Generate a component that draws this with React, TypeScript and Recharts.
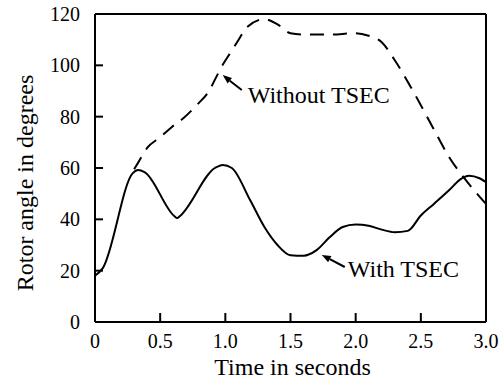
import { LineChart, Line, XAxis, YAxis, ReferenceLine, ReferenceDot } from "recharts";

// rotor angle with the TSEC controller (solid)
const timeWith = [0, 0.06, 0.29, 0.33, 0.38, 0.61, 0.63, 0.65, 0.92, 0.98, 1.05, 1.19, 1.3, 1.4, 1.5, 1.6, 1.7, 1.8, 1.9, 2.0, 2.1, 2.2, 2.3, 2.4, 2.5, 2.6, 2.72, 2.8, 2.87, 2.95, 3.0];
const angleWith = [18, 21, 58, 59.2, 58.4, 41.2, 40.5, 41.2, 60, 61.2, 60, 47.5, 37, 30, 26, 25.8, 28, 33, 37, 38, 37.5, 36, 35, 35.5, 41.5, 46, 51.5, 55.5, 57, 56, 54.5];

// rotor angle without TSEC (dashed)
const timeWithout = [0.3, 0.33, 0.4, 0.5, 0.59, 0.68, 0.79, 0.87, 0.93, 0.97, 1.04, 1.09, 1.17, 1.3, 1.4, 1.5, 1.6, 1.8, 2.0, 2.1, 2.2, 2.3, 2.44, 2.59, 2.72, 2.85, 3.0];
const angleWithout = [59.5, 62, 67.8, 72, 76, 79.5, 85, 89.6, 95.4, 99.3, 105, 109, 115, 118, 116, 112.5, 112, 112, 112.5, 111.5, 109, 102, 90, 76, 64, 55, 46];

const xTicks = [0, 0.5, 1, 1.5, 2, 2.5, 3];
const yTicks = [0, 20, 40, 60, 80, 100, 120];

const withData = timeWith.map((t, i) => ({ t, v: angleWith[i] }));
const withoutData = timeWithout.map((t, i) => ({ t, v: angleWithout[i] }));

const font = "Liberation Serif, DejaVu Serif, Noto Serif, serif";

function YTick(props: any) {
  const { x, y, payload } = props;
  return (
    <g>
      <line x1={x} y1={y} x2={x + 8} y2={y} stroke="#000" strokeWidth={2} />
      <text x={x - 15} y={y} dy="0.35em" textAnchor="end" fontSize={20} style={{ fontFamily: font }} fill="#000">
        {payload.value}
      </text>
    </g>
  );
}

function XTick(props: any) {
  const { x, y, payload } = props;
  const label = payload.value === 0 ? "0" : Number(payload.value).toFixed(1);
  return (
    <g>
      <line x1={x} y1={y} x2={x} y2={y - 9} stroke="#000" strokeWidth={2} />
      <text x={x} y={y + 26} textAnchor="middle" fontSize={20} style={{ fontFamily: font }} fill="#000">
        {label}
      </text>
    </g>
  );
}

function YLabel(props: any) {
  const { viewBox } = props;
  const cx = viewBox.x + 25;
  const cy = viewBox.y + viewBox.height / 2 + 15;
  return (
    <text
      x={cx}
      y={cy}
      transform={`rotate(-90, ${cx}, ${cy})`}
      textAnchor="middle"
      dominantBaseline="central"
      fontSize={24}
      style={{ fontFamily: font }}
      fill="#000"
    >
      Rotor angle in degrees
    </text>
  );
}

function XLabel(props: any) {
  const { viewBox } = props;
  return (
    <text
      x={viewBox.x + viewBox.width / 2 + 2}
      y={viewBox.y + 53}
      textAnchor="middle"
      fontSize={24}
      style={{ fontFamily: font }}
      fill="#000"
    >
      Time in seconds
    </text>
  );
}

// arrow pointing at (cx, cy) with its tail and text offset in pixels
function Callout(props: any) {
  const { cx, cy, tail, textAt, text } = props;
  const x2 = cx + tail[0];
  const y2 = cy + tail[1];
  const ang = Math.atan2(cy - y2, cx - x2);
  const len = 9;
  const w = 3.5;
  const bx = cx - len * Math.cos(ang);
  const by = cy - len * Math.sin(ang);
  const p1 = `${bx + w * Math.sin(ang)},${by - w * Math.cos(ang)}`;
  const p2 = `${bx - w * Math.sin(ang)},${by + w * Math.cos(ang)}`;
  return (
    <g>
      <line x1={x2} y1={y2} x2={bx} y2={by} stroke="#000" strokeWidth={2} />
      <polygon points={`${cx},${cy} ${p1} ${p2}`} fill="#000" />
      <text x={cx + textAt[0]} y={cy + textAt[1]} fontSize={24} style={{ fontFamily: font }} fill="#000">
        {text}
      </text>
    </g>
  );
}

export default function App() {
  return (
    <div style={{ position: "absolute", left: 0, top: 0, width: 501, height: 381, background: "#fff", fontFamily: font }}>
      <LineChart width={501} height={381} margin={{ top: 14, right: 15, left: 0, bottom: 0 }}>
        <XAxis
          type="number"
          dataKey="t"
          domain={[0, 3]}
          ticks={xTicks}
          interval={0}
          tickSize={0}
          tickMargin={0}
          tick={<XTick />}
          height={59}
          axisLine={{ stroke: "#000", strokeWidth: 2 }}
          label={<XLabel />}
        />
        <YAxis
          type="number"
          domain={[0, 120]}
          ticks={yTicks}
          interval={0}
          tickSize={0}
          tickMargin={0}
          tick={<YTick />}
          width={95}
          axisLine={{ stroke: "#000", strokeWidth: 2 }}
          label={<YLabel />}
        />
        <ReferenceLine y={120} stroke="#000" strokeWidth={2} />
        <ReferenceLine x={3} stroke="#000" strokeWidth={2} />
        <Line
          data={withoutData}
          dataKey="v"
          type="monotone"
          stroke="#000"
          strokeWidth={2}
          strokeDasharray="14 9"
          dot={false}
          isAnimationActive={false}
        />
        <Line
          data={withData}
          dataKey="v"
          type="monotone"
          stroke="#000"
          strokeWidth={2}
          dot={false}
          isAnimationActive={false}
        />
        <ReferenceDot
          x={0.98}
          y={96.2}
          r={0}
          shape={(p: any) => <Callout {...p} tail={[19, 15]} textAt={[25, 28]} text="Without TSEC" />}
        />
        <ReferenceDot
          x={1.74}
          y={26.1}
          r={0}
          shape={(p: any) => <Callout {...p} tail={[23, 12]} textAt={[26, 22]} text="With TSEC" />}
        />
      </LineChart>
    </div>
  );
}
